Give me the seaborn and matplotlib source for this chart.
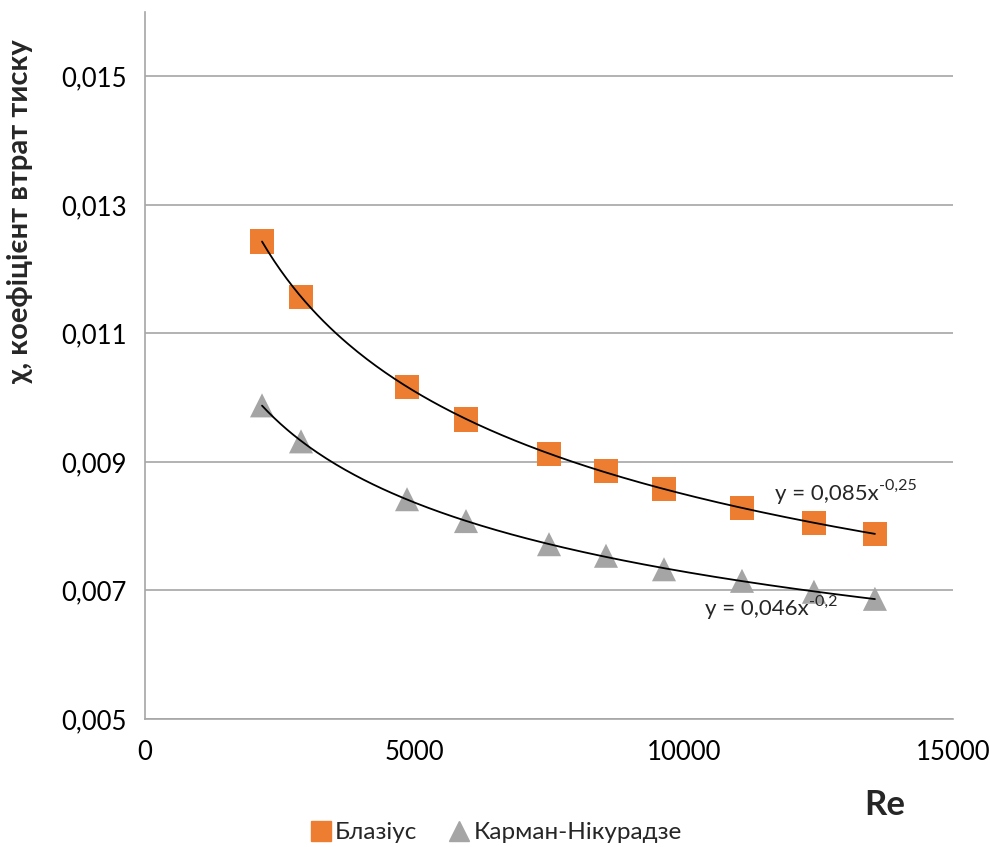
import numpy as np
import pandas as pd
import matplotlib
matplotlib.use("Agg")
import matplotlib.pyplot as plt
from matplotlib.lines import Line2D
import seaborn as sns

# Reynolds numbers and friction coefficients for the two correlations
re_values = [2172, 2896, 4864, 5959, 7500, 8558, 9635, 11083, 12419, 13551]
blasius = [0.01243, 0.01157, 0.01017, 0.00966, 0.00912, 0.00886, 0.00858, 0.00828, 0.00805, 0.00788]
karman = [0.00988, 0.00932, 0.00842, 0.00808, 0.00772, 0.00754, 0.00733, 0.00715, 0.00698, 0.00687]
series_names = ["Блазіус", "Карман-Нікурадзе"]
fit_bases = ["y = 0,085x", "y = 0,046x"]
fit_powers = ["-0,25", "-0,2"]

x_ticks = [0, 5000, 10000, 15000]
y_ticks = [0.005, 0.007, 0.009, 0.011, 0.013, 0.015]

sns.set_theme(style="white")
plt.rcParams["font.family"] = ["Lato", "DejaVu Sans"]

df = pd.DataFrame({
    "Re": re_values * 2,
    "lam": blasius + karman,
    "series": [series_names[0]] * len(re_values) + [series_names[1]] * len(re_values),
})

colors = {series_names[0]: "#ED7D31", series_names[1]: "#A5A5A5"}
markers = {series_names[0]: "s", series_names[1]: "^"}

fig = plt.figure(figsize=(9.9, 8.47), dpi=100)
ax = fig.add_axes([0.1465, 0.1511, 0.8161, 0.8347])

sns.scatterplot(data=df, x="Re", y="lam", hue="series", style="series",
                palette=colors, markers=markers, s=300, linewidth=0,
                ax=ax, legend=False, zorder=3)

# Power-law trendlines fitted in log space
for name, vals in zip(series_names, [blasius, karman]):
    b, log_a = np.polyfit(np.log(re_values), np.log(vals), 1)
    xs = np.linspace(min(re_values), max(re_values), 200)
    ax.plot(xs, np.exp(log_a) * xs ** b, color="black", lw=1.3, zorder=4)

# Trendline equations with a raised exponent
for (tx, ty), base, power in zip([(11700, 0.00835), (10400, 0.00655)], fit_bases, fit_powers):
    t = ax.text(tx, ty, base, fontsize=16, ha="left", va="bottom", zorder=5)
    ax.annotate(power, xy=(1.0, 0.55), xycoords=t, fontsize=11.5,
                ha="left", va="bottom", zorder=5)

ax.set_xlim(0, 15000)
ax.set_ylim(0.005, 0.016)
ax.set_xticks(x_ticks)
ax.set_yticks(y_ticks)
ax.set_xticklabels([str(t) for t in x_ticks])
ax.set_yticklabels([f"{t:.3f}".replace(".", ",") for t in y_ticks])
ax.tick_params(axis="both", labelsize=18.5, colors="#888888", length=6, width=1.2,
               labelcolor="black")
ax.tick_params(axis="x", direction="out", pad=9)
ax.tick_params(axis="y", direction="out", pad=7)
ax.yaxis.grid(True, color="#A6A6A6", lw=1.2)
ax.set_axisbelow(True)

for side in ["top", "right"]:
    ax.spines[side].set_visible(False)
for side in ["left", "bottom"]:
    ax.spines[side].set_color("#A6A6A6")
    ax.spines[side].set_linewidth(1.2)

ax.set_xlabel("")
ax.set_ylabel("χ, коефіцієнт втрат тиску", fontsize=21, fontweight="bold")
ax.yaxis.set_label_coords(-0.139, 0.7185)
fig.text(0.894, 0.0496, "Re", fontsize=25, fontweight="bold", ha="center", va="center")

handles = [
    Line2D([], [], ls="", marker="s", ms=14, color=colors[series_names[0]], label=series_names[0]),
    Line2D([], [], ls="", marker="^", ms=14, color=colors[series_names[1]], label=series_names[1]),
]
fig.legend(handles=handles, loc="center", bbox_to_anchor=(0.5, 0.017), ncol=2,
           frameon=False, fontsize=17.5, handletextpad=0.1, columnspacing=1.2,
           handlelength=1.0)

fig.savefig("out.png", dpi=100)
